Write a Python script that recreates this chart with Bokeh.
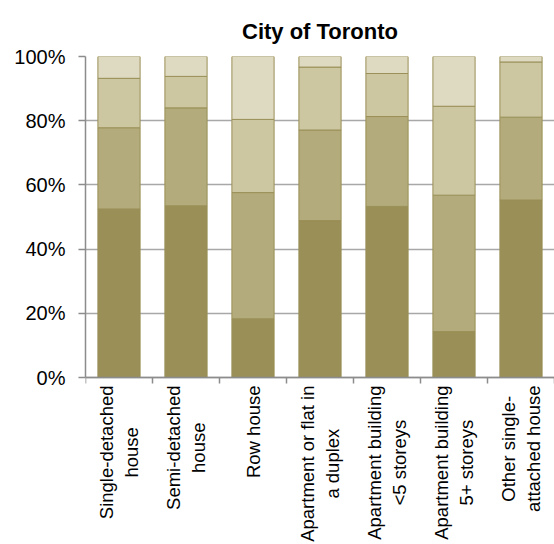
import math
from bokeh.plotting import figure
from bokeh.models import ColumnDataSource, Range1d, FixedTicker, PrintfTickFormatter, Span
from bokeh.core.properties import value
from bokeh.embed import file_html
from bokeh.resources import INLINE

categories = ["Single-detached\nhouse", "Semi-detached\nhouse", "Row house",
              "Apartment or flat in\na duplex", "Apartment building\n<5 storeys",
              "Apartment building\n5+ storeys", "Other single-\nattached house"]
seg1 = [52.5, 53.5, 18.3, 48.9, 53.3, 14.3, 55.3]
seg2 = [25.3, 30.5, 39.3, 28.2, 28.0, 42.5, 25.8]
seg3 = [15.4, 9.8, 22.8, 19.6, 13.4, 27.7, 17.2]
seg4 = [6.8, 6.2, 19.6, 3.3, 5.3, 15.5, 1.7]
y_ticks = [0, 20, 40, 60, 80, 100]

colors = ["#998F57", "#B3AB7B", "#CCC6A1", "#DED9C1"]
AXIS = "#8C8C8C"
FONT = "Liberation Sans"

# geometry (pixels)
W, H = 554, 544
TOP, LEFT = 56, 85
PLOT_PX = 321            # height of the 0..100% band
LABEL_PX = H - TOP - PLOT_PX
u = 100.0 / PLOT_PX      # data units per pixel

n = len(categories)
xpos = [i + 0.5 for i in range(n)]
bounds = list(range(n + 1))
source = ColumnDataSource(dict(x=xpos, s1=seg1, s2=seg2, s3=seg3, s4=seg4))

p = figure(width=W, height=H, output_backend="svg", toolbar_location=None,
           x_range=Range1d(0, n), y_range=Range1d(-LABEL_PX * u, 100),
           x_axis_location=None,
           min_border_left=LEFT, min_border_right=0, min_border_top=TOP,
           min_border_bottom=0)

p.vbar_stack(["s1", "s2", "s3", "s4"], x="x", width=0.63, source=source,
             fill_color=colors, line_color="#9A9058", line_width=1)

# category axis line and boundary ticks
p.add_layout(Span(location=0, dimension="width", line_color=AXIS, line_width=1.5))
p.segment(x0=bounds, y0=[0] * len(bounds), x1=bounds, y1=[-6 * u] * len(bounds),
          line_color=AXIS, line_width=1.5)

# category labels
p.text(x=xpos, y=[-8 * u] * n, text=categories, angle=math.pi / 2,
       anchor="center_right", text_align="center",
       text_font=value(FONT), text_font_size="18.5px", text_color="#000000",
       text_line_height=1.2)

p.title.text = "City of Toronto"
p.title.align = "center"
p.title.text_font = FONT
p.title.text_font_size = "22px"
p.title.text_font_style = "bold"
p.title.text_color = "#000000"
p.title.standoff = 26

p.outline_line_color = None
p.xgrid.grid_line_color = None
p.ygrid.grid_line_color = "#A8A8A8"
p.ygrid.grid_line_width = 1.5
p.ygrid.ticker = FixedTicker(ticks=y_ticks)

p.yaxis.bounds = (0, 100)
p.yaxis.ticker = FixedTicker(ticks=y_ticks)
p.yaxis.formatter = PrintfTickFormatter(format="%d%%")
p.yaxis.axis_line_color = AXIS
p.yaxis.axis_line_width = 1.5
p.yaxis.major_tick_line_color = AXIS
p.yaxis.major_tick_line_width = 1.5
p.yaxis.major_tick_out = 7
p.yaxis.major_tick_in = 0
p.yaxis.minor_tick_line_color = None
p.yaxis.major_label_standoff = 13
p.yaxis.major_label_text_font = FONT
p.yaxis.major_label_text_font_size = "20px"
p.yaxis.major_label_text_color = "#000000"

open("out.html", "w").write(file_html(p, INLINE))
